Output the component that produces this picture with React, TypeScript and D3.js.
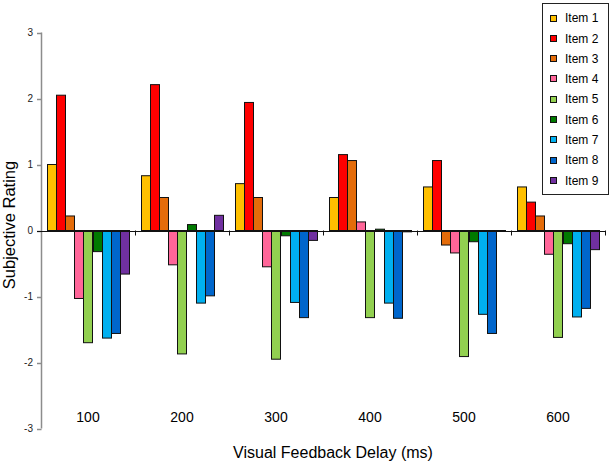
import React from "react";
import * as d3 from "d3";

const categories = ["100", "200", "300", "400", "500", "600"];
const items = ["Item 1", "Item 2", "Item 3", "Item 4", "Item 5", "Item 6", "Item 7", "Item 8", "Item 9"];
const colors = ["#FFC000", "#FF0000", "#E46C0A", "#FF6699", "#92D050", "#007A00", "#00B0F0", "#0066CC", "#7030A0"];
// values[item][category]
const item1 = [1.0, 0.83, 0.71, 0.5, 0.66, 0.66];
const item2 = [2.05, 2.21, 1.94, 1.15, 1.06, 0.43];
const item3 = [0.22, 0.5, 0.5, 1.06, -0.22, 0.22];
const item4 = [-1.03, -0.52, -0.55, 0.13, -0.34, -0.36];
const item5 = [-1.7, -1.87, -1.95, -1.32, -1.91, -1.62];
const item6 = [-0.32, 0.09, -0.08, 0.02, -0.17, -0.2];
const item7 = [-1.63, -1.1, -1.09, -1.1, -1.27, -1.31];
const item8 = [-1.56, -0.99, -1.32, -1.33, -1.56, -1.18];
const item9 = [-0.66, 0.23, -0.15, -0.02, -0.01, -0.29];
const series = [item1, item2, item3, item4, item5, item6, item7, item8, item9];
const yTicks = [-3, -2, -1, 0, 1, 2, 3];

const W = 611;
const H = 469;

export default function App() {
  const x0 = d3.scaleBand<string>().domain(categories).range([41, 605]).paddingInner(0).paddingOuter(0);
  const x1 = d3.scaleBand<string>().domain(items).range([0, x0.bandwidth()]).paddingInner(0).paddingOuter(0.72);
  const y = d3.scaleLinear().domain([-3, 3]).range([428.5, 32.5]);
  const font = "Liberation Sans, Arial, sans-serif";
  const boundaries = categories.map((c) => x0(c)!).concat([x0(categories[categories.length - 1])! + x0.bandwidth()]);

  return (
    <svg width={W} height={H} style={{ position: "absolute", left: 0, top: 0, background: "#fff" }} fontFamily={font}>
      <rect x={0} y={0} width={W} height={H} fill="#fff" />
      {/* bars */}
      {series.map((vals, i) =>
        vals.map((v, j) => {
          const xPos = x0(categories[j])! + x1(items[i])!;
          const y0 = y(0);
          const yv = y(v);
          return (
            <rect
              key={`${i}-${j}`}
              x={Math.round(xPos) + 0.5}
              y={Math.min(y0, yv)}
              width={Math.round(x1.bandwidth())}
              height={Math.max(Math.abs(yv - y0), 0.5)}
              fill={colors[i]}
              stroke="#111"
              strokeWidth={1}
            />
          );
        })
      )}
      {/* y axis */}
      <line x1={41.5} x2={41.5} y1={y(3)} y2={y(-3)} stroke="#8c8c8c" strokeWidth={1.5} />
      {yTicks.map((t) => (
        <g key={t}>
          <line x1={37} x2={41.5} y1={Math.round(y(t)) + 0.5} y2={Math.round(y(t)) + 0.5} stroke="#8c8c8c" strokeWidth={1.5} />
          <text x={33} y={y(t)} dy="0.35em" textAnchor="end" fontSize={10} fill="#222">
            {t}
          </text>
        </g>
      ))}
      {/* x axis at zero */}
      <line x1={37} x2={605} y1={Math.round(y(0)) + 0.5} y2={Math.round(y(0)) + 0.5} stroke="#111" strokeWidth={1.2} />
      {boundaries.slice(1).map((b, k) => (
        <line key={k} x1={Math.round(b) + 0.5} x2={Math.round(b) + 0.5} y1={y(0)} y2={y(0) + 5} stroke="#111" strokeWidth={1} />
      ))}
      {/* category labels */}
      {categories.map((c) => (
        <text key={c} x={x0(c)! + x0.bandwidth() / 2} y={417} dy="0.35em" textAnchor="middle" fontSize={14} fill="#000">
          {c}
        </text>
      ))}
      <text x={333} y={452} dy="0.35em" textAnchor="middle" fontSize={16} fill="#000">
        Visual Feedback Delay (ms)
      </text>
      <text transform={`translate(15,225) rotate(-90)`} textAnchor="middle" fontSize={16.5} fill="#000">
        Subjective Rating
      </text>
      {/* legend */}
      <rect x={542.5} y={3.5} width={66} height={191} fill="#fff" stroke="#222" strokeWidth={1} />
      {items.map((it, i) => {
        const cy = 18 + i * 20.3;
        return (
          <g key={it}>
            <rect x={550.5} y={Math.round(cy - 3.5) + 0.5} width={6} height={6} fill={colors[i]} stroke="#111" strokeWidth={1} />
            <text x={565} y={cy} dy="0.35em" fontSize={12} fill="#000">
              {it}
            </text>
          </g>
        );
      })}
    </svg>
  );
}
